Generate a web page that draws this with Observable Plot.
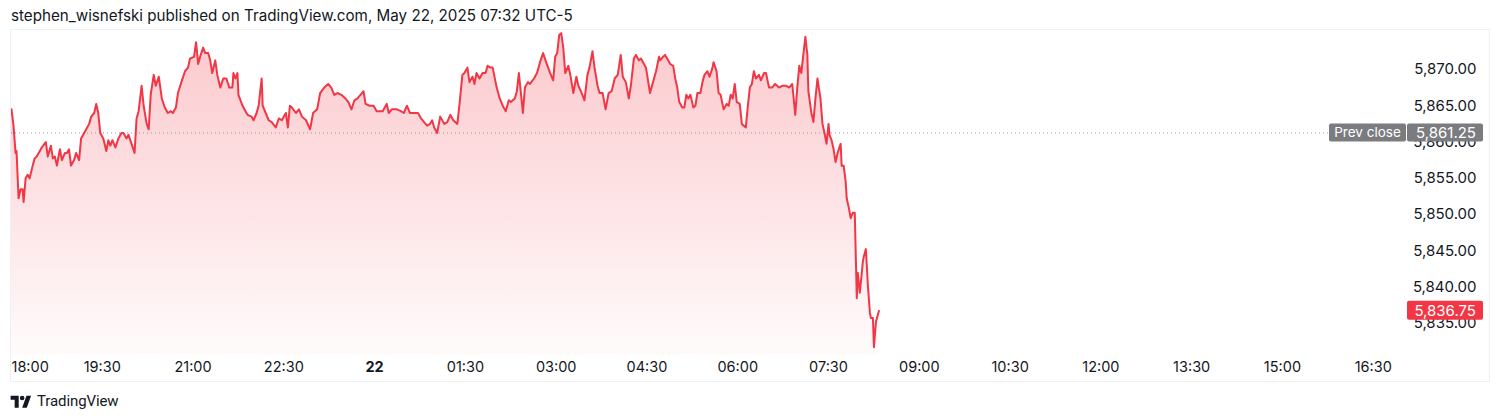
<!DOCTYPE html>
<html>
<head>
<meta charset="utf-8">
<script src="https://cdn.jsdelivr.net/npm/d3@7"></script>
<script src="https://cdn.jsdelivr.net/npm/@observablehq/plot@0.6"></script>
<style>
html, body { margin: 0; padding: 0; background: #ffffff; width: 1500px; height: 420px; overflow: hidden; }
body { font-family: Inter, Roboto, "Noto Sans", sans-serif; color: #131722; position: relative; }
#title { position: absolute; left: 11px; top: 7px; font-size: 15.2px; line-height: 17px; white-space: nowrap; color: #131722; }
#chart { position: absolute; left: 0; top: 29px; width: 1500px; height: 352px; }
#frame { position: absolute; left: 10px; top: 29px; width: 1478px; height: 351px; border: 1px solid #eef0f3; pointer-events: none; }
#footer { position: absolute; left: 10px; top: 393px; display: flex; align-items: center; gap: 5px; color: #131722; }
#footer span { font-family: Roboto, Inter, sans-serif; font-size: 15px; line-height: 16px; letter-spacing: -0.1px; }
</style>
</head>
<body>
<div id="title">stephen_wisnefski published on TradingView.com, May 22, 2025 07:32 UTC-5</div>
<div id="chart"></div>
<div id="frame"></div>
<div id="footer">
  <svg width="22" height="15" viewBox="0 0 36 26"><path d="M14 24H7V10H0V3h14v21zM28 24h-8l7.5-21h8L28 24z" fill="#131722"/><circle cx="20" cy="7" r="4" fill="#131722"/></svg>
  <span>TradingView</span>
</div>
<script>
// ---- data (minutes after 18:00 on May 21; ES futures price) ----
const minutesSince1800 = [
  0,2,4,5,7,9,11,12,14,16,
  18,21,23,25,27,30,34,36,39,41,
  43,45,48,50,53,55,57,59,62,64,
  67,69,73,77,79,82,84,86,88,91,
  94,96,98,100,103,106,109,111,114,116,
  119,122,124,126,129,131,134,136,138,141,
  143,146,149,152,155,158,160,163,165,169,
  172,175,177,181,183,185,187,190,192,195,
  197,199,202,204,207,210,213,216,219,220,
  222,224,225,229,232,234,238,240,243,245,
  248,249,252,255,258,262,265,268,272,274,
  276,278,282,285,288,292,296,299,303,306,
  310,314,317,320,323,327,331,334,337,340,
  343,346,349,351,355,359,362,365,368,372,
  374,377,382,386,389,392,395,399,403,406,
  409,412,415,417,419,422,425,429,432,435,
  438,442,444,447,449,452,454,457,459,461,
  464,467,470,472,475,477,481,484,487,490,
  493,495,499,501,503,505,507,509,512,514,
  518,521,524,527,530,534,537,539,541,543,
  545,547,549,552,554,557,560,562,566,568,
  571,573,576,578,581,583,586,589,592,595,
  598,601,604,606,609,612,614,617,619,622,
  624,627,629,633,636,639,642,643,646,648,
  651,653,656,658,660,662,665,667,669,671,
  673,676,678,680,683,685,687,690,692,695,
  696,699,701,703,706,709,711,713,715,717,
  719,722,724,728,730,732,734,736,738,741,
  743,746,748,751,754,757,761,764,768,771,
  774,777,779,781,783,785,787,789,790,793,
  795,797,799,802,804,806,808,810,811,813,
  815,817,819,822,823,825,827,828,830,832,
  834,836,838,839,841,843,844,845,847,849,
  851,852,854,855,857,860
];
const prices = [
  5864.5,5862.25,5858.5,5858.75,5852.25,5853.5,5853.5,5851.75,5855,5855.5,
  5855,5856.75,5857.75,5858,5858.5,5859.25,5860,5858,5859.5,5857.75,
  5858,5856.75,5859,5857.5,5858.5,5858.5,5859,5856.75,5857.5,5858.5,
  5857.5,5860.5,5861.5,5862.5,5863.5,5864,5865.25,5864,5861.25,5860.5,
  5858.75,5860.25,5859.5,5860.25,5859.25,5860.5,5861.25,5861.25,5860.5,5861,
  5859.75,5858.5,5863.25,5864.25,5867.75,5865,5862.5,5861.75,5866.5,5869.25,
  5867.75,5869,5866,5864.75,5864,5864.25,5864,5864.75,5866.75,5868.5,
  5869.75,5870.25,5871.5,5871.75,5873.75,5870.75,5871.75,5873,5872.25,5872.25,
  5871.25,5869.5,5871.25,5869.25,5867.5,5868.75,5868.75,5867.5,5867.5,5869.5,
  5868.75,5869.5,5866.5,5865,5864.25,5863.75,5863.5,5863,5864,5865,
  5868.75,5865,5864,5863,5862.75,5862,5863.25,5863,5864,5862,
  5865,5864.75,5864,5864.5,5863.5,5863,5861.75,5864,5864.5,5866.75,
  5867.5,5868,5867.5,5866.5,5866.75,5866.5,5866,5865.5,5864.5,5865.75,
  5866,5866.5,5867,5865.25,5865,5865,5864.25,5864.25,5864.25,5865.25,
  5864,5864.5,5864.5,5864.25,5864,5865,5864,5864,5864,5863.25,
  5862.75,5862.25,5862.5,5863,5862,5861.25,5863.5,5862.5,5862.75,5863.75,
  5863,5862.5,5865,5869.25,5869.5,5870.25,5868.25,5869,5868,5869.5,
  5868.75,5869.5,5869.5,5870.5,5870.25,5870.25,5867.5,5866,5865,5864.25,
  5865.75,5865.5,5866,5867,5869.5,5866.75,5864,5867.5,5868.25,5868,
  5868.75,5869.5,5871,5872.25,5871,5869.5,5868.5,5871.75,5872.25,5874.75,
  5875,5873,5869.5,5870.5,5869.25,5866.75,5869,5867.75,5866.5,5865.75,
  5869.25,5870.25,5872.5,5870.25,5867.75,5866.75,5866.75,5864.5,5866.75,5867,
  5868.75,5869.25,5872,5869,5868.25,5866,5867.75,5871.5,5872,5871.25,
  5871.5,5870.75,5870.25,5866.75,5868.25,5869.75,5871.75,5871.25,5871.75,5872,
  5871.25,5870.75,5870.5,5868.75,5867.5,5865.5,5864.75,5864.75,5866.5,5866,
  5866.5,5864.75,5865,5866.75,5866.75,5868.25,5869.25,5869.75,5869,5870.25,
  5871,5869.75,5866.75,5866.5,5864.5,5865.25,5865,5866.5,5866,5868,
  5865.5,5865.25,5862.5,5862,5865,5867.5,5868,5869.75,5868.75,5869.25,
  5868.5,5869.5,5869.5,5867.5,5867.5,5868,5867.5,5867.75,5867.75,5867.5,
  5868,5863.75,5867.5,5870.5,5869.5,5872,5874.5,5872,5867,5864,
  5862.75,5866,5868.75,5866,5862.5,5861.25,5859.75,5862.5,5861,5860.25,
  5859,5857.25,5858.5,5859.75,5856.75,5856.75,5854.5,5852.25,5851,5849.5,
  5850.25,5850.25,5838.5,5842,5839.25,5842,5843.5,5844.25,5845.25,5840.25,
  5836.5,5835.75,5835.75,5831.75,5835.25,5836.75
];
const prevClose = 5861.25;
const lastPrice = 5836.75;
const priceTicks = [5835, 5840, 5845, 5850, 5855, 5860, 5865, 5870];
const timeTickMinutes = [0, 90, 180, 270, 360, 450, 540, 630, 720, 810, 900, 990, 1080, 1170, 1260, 1350];
const timeTickLabels = ["18:00","19:30","21:00","22:30","22","01:30","03:00","04:30","06:00","07:30","09:00","10:30","12:00","13:30","15:00","16:30"];
const dayMarker = "22";
const sessionMinutes = [0, 1380];
const priceDomain = [5830.6, 5875.5];

// ---- build ----
const n = Math.min(minutesSince1800.length, prices.length);
const series = d3.range(n).map(i => ({m: minutesSince1800[i], p: prices[i]}));
const ticks = timeTickMinutes.map((m, i) => ({m, label: timeTickLabels[i]}));
const fmt = d3.format(",.2f");
const RED = "#f23645";
const FONT = 'Inter, Roboto, "Noto Sans", sans-serif';
const ns = "http://www.w3.org/2000/svg";

function el(tag, attrs, text) {
  const e = document.createElementNS(ns, tag);
  for (const k in attrs) e.setAttribute(k, attrs[k]);
  if (text != null) e.textContent = text;
  return e;
}

// price-axis labels (Prev close + last price)
function priceTags(index, scales, values, dims) {
  const g = el("g", {"font-family": FONT, "font-size": 15});
  const fr = dims.width - dims.marginRight;
  const yp = scales.y(prevClose);
  g.appendChild(el("rect", {x: fr - 74, y: yp - 9, width: 77, height: 18, rx: 2, fill: "#7b7c80"}));
  g.appendChild(el("rect", {x: fr + 4, y: yp - 9, width: 76, height: 18, rx: 2, fill: "#7b7c80"}));
  g.appendChild(el("text", {x: fr - 35.5, y: yp, "text-anchor": "middle", dy: "0.35em", fill: "#ffffff", "font-size": 13.5}, "Prev close"));
  g.appendChild(el("text", {x: fr + 73, y: yp, "text-anchor": "end", dy: "0.35em", fill: "#ffffff"}, fmt(prevClose)));
  const yl = scales.y(lastPrice);
  g.appendChild(el("rect", {x: fr + 4, y: yl - 9.5, width: 76, height: 19, rx: 2, fill: RED}));
  g.appendChild(el("text", {x: fr + 73, y: yl, "text-anchor": "end", dy: "0.35em", fill: "#ffffff"}, fmt(lastPrice)));
  return g;
}

const chart = Plot.plot({
  width: 1500,
  height: 352,
  marginLeft: 11,
  marginRight: 97,
  marginTop: 0,
  marginBottom: 26,
  x: {type: "linear", domain: sessionMinutes, axis: null},
  y: {domain: priceDomain, axis: null},
  style: {fontFamily: FONT, fontSize: "15px", color: "#131722", background: "transparent", overflow: "visible"},
  marks: [
    Plot.areaY(series, {x: "m", y1: priceDomain[0], y2: "p", fill: "url(#tvgrad)", curve: "linear"}),
    Plot.ruleY([prevClose], {stroke: "#9598a1", strokeWidth: 1, strokeDasharray: "1,3"}),
    Plot.line(series, {x: "m", y: "p", stroke: RED, strokeWidth: 2, strokeLinejoin: "round"}),
    Plot.text(priceTicks, {y: d => d, text: d => fmt(d), frameAnchor: "right", dx: 73, textAnchor: "end", fill: "#131722", fontSize: 15}),
    Plot.text(ticks.slice(0, 1), {x: "m", text: "label", frameAnchor: "bottom", dy: 12, lineAnchor: "middle", textAnchor: "start", fill: "#131722", fontSize: 14.5}),
    Plot.text(ticks.slice(1).filter(d => d.label !== dayMarker), {x: "m", text: "label", frameAnchor: "bottom", dy: 12, lineAnchor: "middle", textAnchor: "middle", fill: "#131722", fontSize: 14.5}),
    Plot.text(ticks.filter(d => d.label === dayMarker), {x: "m", text: "label", frameAnchor: "bottom", dy: 12, lineAnchor: "middle", textAnchor: "middle", fill: "#131722", fontSize: 14.5, fontWeight: "bold"}),
    priceTags
  ]
});

// gradient for the area fill
const defs = el("defs", {});
const grad = el("linearGradient", {id: "tvgrad", x1: 0, y1: 0, x2: 0, y2: 1});
grad.appendChild(el("stop", {offset: "0%", "stop-color": RED, "stop-opacity": 0.27}));
grad.appendChild(el("stop", {offset: "100%", "stop-color": RED, "stop-opacity": 0.02}));
defs.appendChild(grad);
chart.insertBefore(defs, chart.firstChild);

document.getElementById("chart").appendChild(chart);
</script>
</body>
</html>
